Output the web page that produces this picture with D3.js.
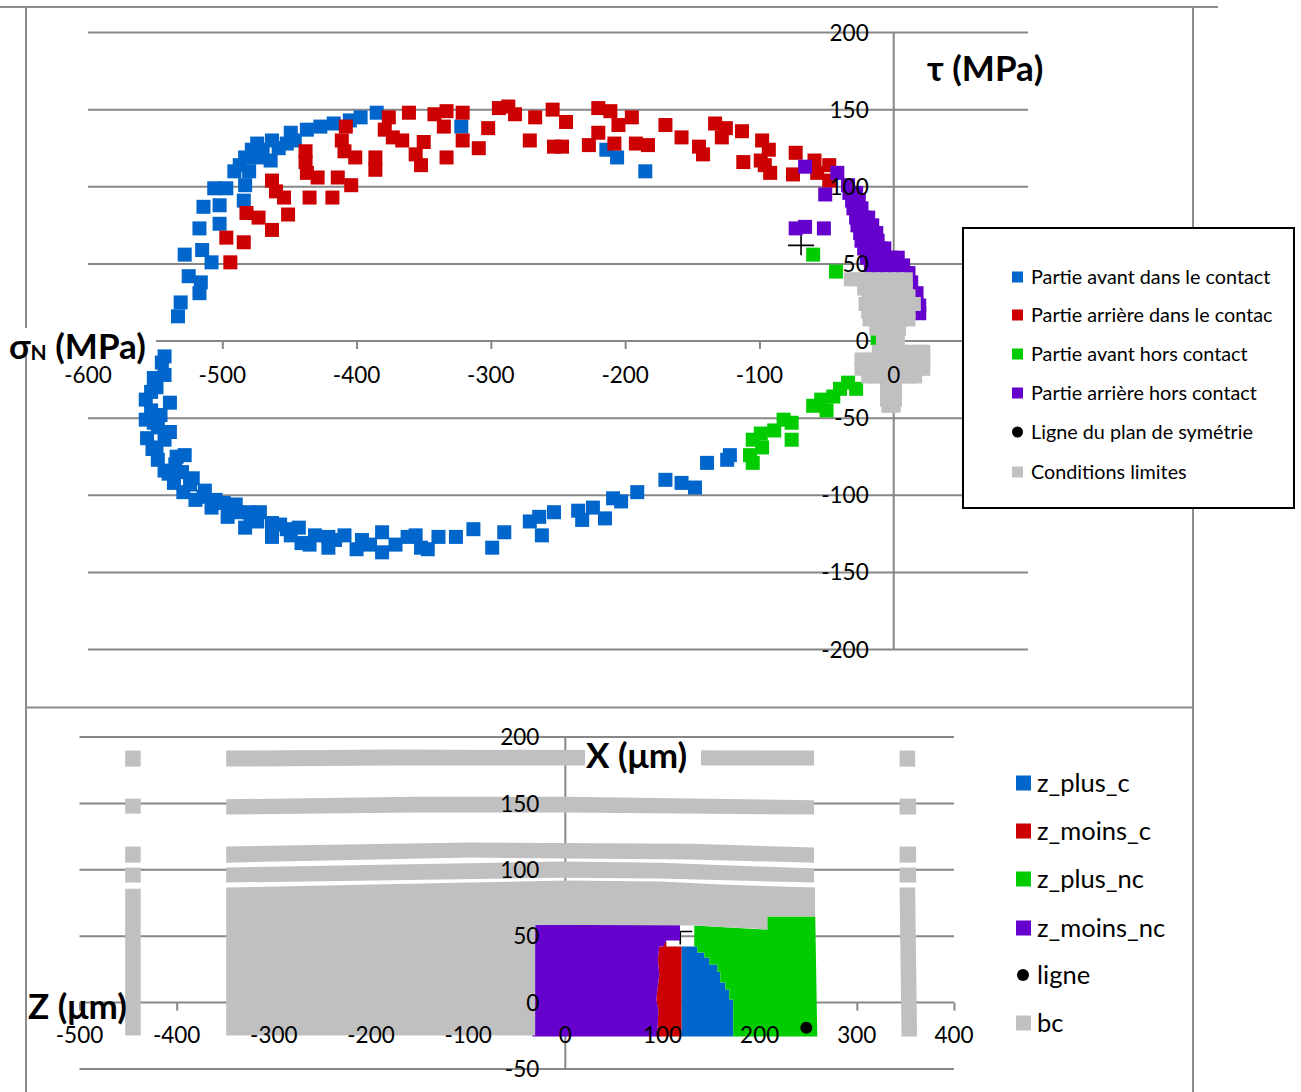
<!DOCTYPE html>
<html><head><meta charset="utf-8">
<script src="https://cdn.jsdelivr.net/npm/d3@7"></script>
<style>
body{margin:0;background:#fff;}
svg{display:block;font-family:Lato,'Liberation Sans',sans-serif;}
</style></head><body>
<svg id="c" width="1301" height="1092"></svg>
<script>
// ---------- tick labels ----------
const topXTicks = [-600,-500,-400,-300,-200,-100,0];
const topYTicks = [200,150,100,50,0,-50,-100,-150,-200];
const botXTicks = [-500,-400,-300,-200,-100,0,100,200,300,400];
const botYTicks = [200,150,100,50,0,-50];

// ---------- top chart series (sigmaN, tau) ----------
const topLegend = ["Partie avant dans le contact","Partie arrière dans le contac","Partie avant hors contact","Partie arrière hors contact","Ligne du plan de symétrie","Conditions limites"];
const avantContact = [
[-533,16],[-531,25],[-517,31],[-525,42],[-516,38],[-508,51],[-528,56],[-515,59],[-502,76],[-517,73],[-514,87],[-502,88],[-506,99],[-497,99],[-484,91],[-483,101],[-491,110],[-480,110],[-483,119],[-474,119],[-464,117],[-474,128],[-463,130],[-452,128],[-449,135],[-437,137],[-427,139],[-417,141],[-405,143],[-397,145],[-385,148],[-322,139],[-214,124],[-206,119],[-185,110],
[-470,124],[-458,125],[-446,130],[-487,114],[-478,124],
[-170,-90],[-158,-92],[-148,-95],[-139,-79],[-122,-74],[-124,-77],
[-543,-10],[-545,-14],[-543,-22],[-551,-24],[-549,-30],[-539,-40],[-557,-38],[-553,-45],[-557,-51],[-551,-53],[-539,-59],[-556,-63],[-549,-69],[-534,-75],[-528,-74],[-548,-77],[-543,-84],[-522,-89],[-536,-92],[-529,-98],[-520,-103],[-514,-101],[-508,-108],[-499,-105],[-496,-114],[-489,-111],[-483,-121],[-480,-111],[-474,-117],[-463,-118],[-463,-127],[-452,-122],[-443,-121],[-441,-131],[-435,-132],[-421,-127],[-421,-134],[-409,-126],[-400,-135],[-396,-129],[-381,-124],[-381,-137],[-362,-127],[-352,-134],[-347,-135],[-339,-127],[-326,-127],[-313,-122],[-299,-134],[-290,-124],[-271,-117],[-262,-126],[-264,-114],[-253,-111],[-235,-110],[-232,-116],[-224,-108],[-215,-115],[-209,-102],[-203,-104],[-191,-98],
[-546,-48],[-543,-64],[-535,-80],[-524,-93],[-513,-97],[-505,-103],[-490,-106],[-479,-116],[-472,-111],[-457,-119],[-449,-126],[-431,-126],[-416,-129],[-390,-132],[-371,-132],[-356,-126],
[-553,-33],[-548,-56],[-552,-70],[-540,-86],[-530,-85]
];
const arriereContact = [
[-497,67],[-484,64],[-494,51],[-482,83],[-473,80],[-463,72],[-451,82],[-463,104],[-460,97],[-454,93],[-438,123],[-438,116],[-437,109],[-429,106],[-435,93],[-418,93],[-414,106],[-404,101],[-408,139],[-411,130],[-409,123],[-401,119],[-386,119],[-386,111],[-376,145],[-379,137],[-373,132],[-366,130],[-361,148],[-356,121],[-352,114],[-350,129],[-342,147],[-333,149],[-335,139],[-321,148],[-321,130],[-333,119],[-309,125],[-302,138],[-294,151],[-287,152],[-282,147],[-267,145],[-271,130],[-254,150],[-253,126],[-244,142],[-247,126],[-220,151],[-211,149],[-220,135],[-227,127],[-208,128],[-205,140],[-195,145],[-192,128],[-183,127],
[-170,140],[-158,132],[-145,126],[-142,121],[-133,141],[-125,138],[-128,132],[-113,136],[-112,116],[-99,117],[-98,130],[-93,124],[-96,114],[-92,109],[-73,122],[-75,108],[-59,117],[-57,109],[-48,114],[-48,104]
];
const avantHors = [
[-43,45],[-60,56],[-12,2],[-11,-17],[-28,-31],[-34,-27],[-45,-36],[-50,-45],[-60,-42],[-76,-53],[-82,-51],[-76,-64],[-89,-58],[-99,-60],[-105,-64],[-98,-69],[-107,-74],[-105,-79],[-54,-38],[-40,-31]
];
const arriereHors = [
[-66,113],[-42,109],[-51,95],[-73,73],[-66,74],[-52,73],
[-34,101],[-33,96],[-28,96],[-31,91],[-26,91],[-30,86],[-24,86],[-28,80],[-22,80],[-19,80],[-27,75],[-21,75],[-16,75],[-25,70],[-19,70],[-13,70],[-24,65],[-18,65],[-12,65],[-22,60],[-16,60],[-10,60],[-7,60],[-20,54],[-14,54],[-8,54],[-2,54],[3,54],[-17,49],[-11,49],[-5,49],[1,49],[7,49],[-13,44],[-6,44],[1,44],[9,44],[11,44],
[13,27],[19,23],[19,18],[17,31],[13,38]
];
const ligneTop = [];
const condLimites = [
[-32,40],[-27,40],[-21,40],[-15,40],[-9,40],[-3,40],[3,40],[9,40],
[-22,34],[-16,34],[-10,34],[-4,34],[2,34],[9,34],
[-19,29],[-13,29],[-7,29],[-1,29],[5,29],[11,29],
[-21,24],[-13,24],[-7,24],[-1,24],[5,24],[11,24],[15,24],
[-19,19],[-13,19],[-7,19],[-1,19],[5,19],[11,19],
[-18,14],[-12,14],[-6,14],[0,14],[6,14],[11,14],
[-13,8],[-8,8],[-2,8],[4,8],
[-8,3],[-2,3],[3,3],
[-8,-2],[-2,-2],[3,-2],
[-11,-7],[-5,-7],[1,-7],[7,-7],[13,-7],[19,-7],[22,-7],
[-24,-12],[-18,-12],[-12,-12],[-6,-12],[0,-12],[6,-12],[12,-12],[18,-12],[22,-12],
[-24,-18],[-18,-18],[-12,-18],[-6,-18],[0,-18],[6,-18],[12,-18],[18,-18],[22,-18],
[-19,-23],[-13,-23],[-7,-23],[-1,-23],[5,-23],[11,-23],[16,-23],
[-5,-28],[1,-28],[-5,-33],[1,-33],[-5,-38],[1,-38],[-4,-42],[0,-42]
];
const cursorTop = [[-69,62]];

// ---------- bottom chart series (X, Z) as filled regions ----------
const botLegend = ["z_plus_c","z_moins_c","z_plus_nc","z_moins_nc","ligne","bc"];
const zPlusC = [[
[119.5,42.2],[135.8,42.2],[135.8,37.7],[143,37.7],[143,33.9],[148.1,33.9],[148.1,28.6],[156.4,28.6],[156.4,23.3],[159.5,23.3],[159.5,15.1],[164.6,15.1],[164.6,9.8],[168.7,9.8],[168.7,2.3],[172.8,2.3],[172.8,-25.6],[119.5,-25.6]
]];
const zMoinsC = [[
[100.8,42.2],[100.8,46],[104,46],[104,42.2],[119.5,42.2],[119.5,-25.6],[94.7,-25.6],[95.7,-5.3],[93.6,2.3],[96.7,21.1],[95.2,32.4],[96.7,42.2]
]];
const zPlusNc = [[
[132.7,58],[207.8,55],[207.8,64.8],[257.2,64.8],[259.3,-25.6],[172.8,-25.6],[172.8,2.3],[168.7,2.3],[168.7,9.8],[164.6,9.8],[164.6,15.1],[159.5,15.1],[159.5,23.3],[156.4,23.3],[156.4,28.6],[148.1,28.6],[148.1,33.9],[143,33.9],[143,37.7],[135.8,37.7],[135.8,42.2],[132.7,42.2]
]];
const zMoinsNc = [[
[-30.9,58.7],[118,58.7],[118,46.7],[103.9,46.7],[100.8,42.2],[96.7,42.2],[95.2,32.4],[96.7,21.1],[93.6,2.3],[95.7,-5.3],[94.7,-25.6],[-34,-25.6],[-32.9,9.8]
]];
const ligneBot = [[248,-19]];
const bc = [
[[-453,189.8],[-437,189.8],[-437,177.7],[-453,177.7]],
[[-453,153.6],[-437,153.6],[-437,142.3],[-453,142.3]],
[[-453,117.5],[-437,117.5],[-437,105.4],[-453,105.4]],
[[-453,101.7],[-437,101.7],[-437,90.4],[-453,90.4]],
[[-453,85.8],[-437,85.8],[-437,-24.8],[-453,-24.8]],
[[344,189.8],[360,189.8],[360,177.7],[344,177.7]],
[[344,153.6],[361,153.6],[361,141.6],[344,141.6]],
[[344,117.5],[361,117.5],[361,105.4],[344,105.4]],
[[344,101.7],[361,101.7],[361,90.4],[344,90.4]],
[[344,86.6],[360,86.6],[362,-25.6],[346,-25.6]],
[[-349,189.8],[-180,190.5],[256,189.8],[256,178.5],[-180,178.5],[-349,177.7]],
[[-349,153.1],[-154,155.1],[0,155.1],[256,152.4],[256,141.6],[0,143.1],[-154,143.1],[-349,141.6]],
[[-349,117.5],[-98,120.5],[129,119.7],[256,116.7],[256,105.4],[129,107.7],[-98,109.2],[-349,105.4]],
[[-349,101.7],[-5,106.2],[98,105.4],[256,100.9],[256,90.4],[98,93.4],[-5,94.1],[-349,90.4]],
[[-349,86.6],[-98,90.4],[0,91.9],[98,91.1],[160,88.9],[257,86.6],[257,64.8],[208,64.8],[208,55],[133,58],[-31,58.7],[-31,-24.8],[-349,-24.8]]
];
const cursorBot = [[118.3,53.5]];

// ---------- styles ----------
const COL = {blue:"#0066CC", red:"#CC0000", green:"#00CC00", purple:"#6600CC", black:"#000", gray:"#C0C0C0"};
const legendColors = [COL.blue, COL.red, COL.green, COL.purple, COL.black, COL.gray];
const GRID = "#878787";
const FRAME = "#8c8c8c";

const svg = d3.select("#c");
svg.append("rect").attr("width",1301).attr("height",1092).attr("fill","#fff");

// frames
const frame = svg.append("g").attr("stroke",FRAME).attr("stroke-width",2).attr("fill","none");
frame.append("line").attr("x1",0).attr("x2",1218).attr("y1",7).attr("y2",7);
frame.append("line").attr("x1",26).attr("x2",26).attr("y1",7).attr("y2",1092);
frame.append("line").attr("x1",1193).attr("x2",1193).attr("y1",7).attr("y2",1092);
frame.append("line").attr("x1",26).attr("x2",1193).attr("y1",707.5).attr("y2",707.5);

// ================= TOP CHART =================
const xT = d3.scaleLinear().domain([-600,100]).range([88,1028]);
const yT = d3.scaleLinear().domain([-200,200]).range([649.5,32.5]);
const gT = svg.append("g");

gT.append("g").selectAll("line").data(topYTicks).join("line")
  .attr("x1",xT(-600)).attr("x2",xT(100)).attr("y1",d=>yT(d)).attr("y2",d=>yT(d))
  .attr("stroke",GRID).attr("stroke-width",2);
gT.append("line").attr("x1",xT(0)).attr("x2",xT(0)).attr("y1",yT(200)).attr("y2",yT(-200))
  .attr("stroke",GRID).attr("stroke-width",2);
const axT = gT.append("g").attr("transform",`translate(0,${yT(0)})`)
  .call(d3.axisBottom(xT).tickValues(topXTicks).tickSize(8).tickFormat(d=>String(d)));
axT.select(".domain").remove();
axT.selectAll(".tick line").attr("stroke",GRID).attr("stroke-width",2);
axT.selectAll(".tick text").remove();

gT.selectAll(".curT").data(cursorTop).join("path").attr("class","curT")
  .attr("d",d=>{const cx=xT(d[0]),cy=yT(d[1]);return `M${cx-13},${cy}H${cx+13}M${cx},${cy-10}V${cy+10}`;})
  .attr("stroke","#000").attr("stroke-width",1.6).attr("fill","none");

function squares(g, data, color, size, xs, ys){
  g.append("g").selectAll("rect").data(data).join("rect")
   .attr("x",d=>xs(d[0])-size/2).attr("y",d=>ys(d[1])-size/2)
   .attr("width",size).attr("height",size).attr("fill",color);
}
const topSeries = [avantContact, arriereContact, avantHors, arriereHors, ligneTop, condLimites];
topSeries.forEach((s,i)=>{
  if(i===4){
    gT.append("g").selectAll("circle").data(s).join("circle")
      .attr("cx",d=>xT(d[0])).attr("cy",d=>yT(d[1])).attr("r",6).attr("fill","#000");
  } else squares(gT, s, legendColors[i], 14, xT, yT);
});

const lblStyle = (sel, size)=>sel.attr("font-size",size).attr("fill","#000");
gT.append("g").selectAll("text").data(topXTicks).join("text")
  .attr("x",d=>xT(d)).attr("y",yT(0)+42).attr("text-anchor","middle").text(d=>String(d))
  .call(lblStyle,22.5);
gT.append("g").selectAll("text").data(topYTicks).join("text")
  .attr("x",xT(0)-25).attr("y",d=>yT(d)).attr("dy","0.36em").attr("text-anchor","end").text(d=>String(d))
  .call(lblStyle,22.5);

// axis titles
gT.append("rect").attr("x",8).attr("y",328).attr("width",148).attr("height",27).attr("fill","#fff");
const sT = gT.append("text").attr("x",9).attr("y",359).attr("font-size",35).attr("font-weight","bold");
sT.append("tspan").text("σ");
sT.append("tspan").attr("font-size",21).attr("dy",1).text("N");
sT.append("tspan").attr("dy",-1).text(" (MPa)");
gT.append("text").attr("x",927).attr("y",81).attr("font-size",35).attr("font-weight","bold").text("τ (MPa)");

// legend
const lgT = svg.append("g");
lgT.append("rect").attr("x",963).attr("y",228).attr("width",331).attr("height",280)
  .attr("fill","#fff").attr("stroke","#000").attr("stroke-width",2);
const rowsT = [277,315,354,393,432,472];
topLegend.forEach((name,i)=>{
  if(i===4) lgT.append("circle").attr("cx",1017.5).attr("cy",rowsT[i]).attr("r",5.5).attr("fill","#000");
  else lgT.append("rect").attr("x",1012).attr("y",rowsT[i]-5.5).attr("width",11).attr("height",11).attr("fill",legendColors[i]);
  lgT.append("text").attr("x",1031).attr("y",rowsT[i]).attr("dy","0.36em").attr("font-size",19.8).text(name);
});

// ================= BOTTOM CHART =================
const xB = d3.scaleLinear().domain([-500,400]).range([79.5,954]);
const yB = d3.scaleLinear().domain([-50,200]).range([1069,737]);
const gB = svg.append("g");
gB.append("g").selectAll("line").data(botYTicks).join("line")
  .attr("x1",xB(-500)).attr("x2",xB(400)).attr("y1",d=>yB(d)).attr("y2",d=>yB(d))
  .attr("stroke",GRID).attr("stroke-width",2);
gB.append("line").attr("x1",xB(0)).attr("x2",xB(0)).attr("y1",yB(200)).attr("y2",yB(-50))
  .attr("stroke",GRID).attr("stroke-width",2);
const axB = gB.append("g").attr("transform",`translate(0,${yB(0)})`)
  .call(d3.axisBottom(xB).tickValues(botXTicks).tickSize(8).tickFormat(d=>String(d)));
axB.select(".domain").remove();
axB.selectAll(".tick line").attr("stroke",GRID).attr("stroke-width",2);
axB.selectAll(".tick text").remove();

gB.selectAll(".curB").data(cursorBot).join("path").attr("class","curB")
  .attr("d",d=>{const cx=xB(d[0]),cy=yB(d[1]);return `M${cx+12},${cy}H${cx}V${cy+13}`;})
  .attr("stroke","#000").attr("stroke-width",1.6).attr("fill","none");

const poly = d3.line().x(d=>xB(d[0])).y(d=>yB(d[1])).curve(d3.curveLinearClosed);
const botSeries = [zPlusC, zMoinsC, zPlusNc, zMoinsNc, ligneBot, bc];
botSeries.forEach((s,i)=>{
  if(i===4){
    gB.append("g").selectAll("circle").data(s).join("circle")
      .attr("cx",d=>xB(d[0])).attr("cy",d=>yB(d[1])).attr("r",6).attr("fill","#000");
  } else {
    gB.append("g").selectAll("path").data(s).join("path").attr("d",poly).attr("fill",legendColors[i]);
  }
});

gB.append("g").selectAll("text").data(botXTicks).join("text")
  .attr("x",d=>xB(d)).attr("y",yB(0)+40).attr("text-anchor","middle").text(d=>String(d))
  .call(lblStyle,22.5);
gB.append("g").selectAll("text").data(botYTicks).join("text")
  .attr("x",xB(0)-26).attr("y",d=>yB(d)).attr("dy","0.36em").attr("text-anchor","end").text(d=>String(d))
  .call(lblStyle,22.5);

gB.append("rect").attr("x",585).attr("y",741).attr("width",116).attr("height",36).attr("fill","#fff");
gB.append("text").attr("x",586).attr("y",768).attr("font-size",35).attr("font-weight","bold").text("X (μm)");
gB.append("text").attr("x",28).attr("y",1019).attr("font-size",35).attr("font-weight","bold").text("Z (μm)");

const rowsB = [783,831,879,928,975,1023];
botLegend.forEach((name,i)=>{
  if(i===4) gB.append("circle").attr("cx",1023).attr("cy",rowsB[i]).attr("r",6).attr("fill","#000");
  else gB.append("rect").attr("x",1016).attr("y",rowsB[i]-7.5).attr("width",15).attr("height",15).attr("fill",legendColors[i]);
  gB.append("text").attr("x",1037).attr("y",rowsB[i]).attr("dy","0.36em").attr("font-size",25.5).text(name);
});
</script>
</body></html>
